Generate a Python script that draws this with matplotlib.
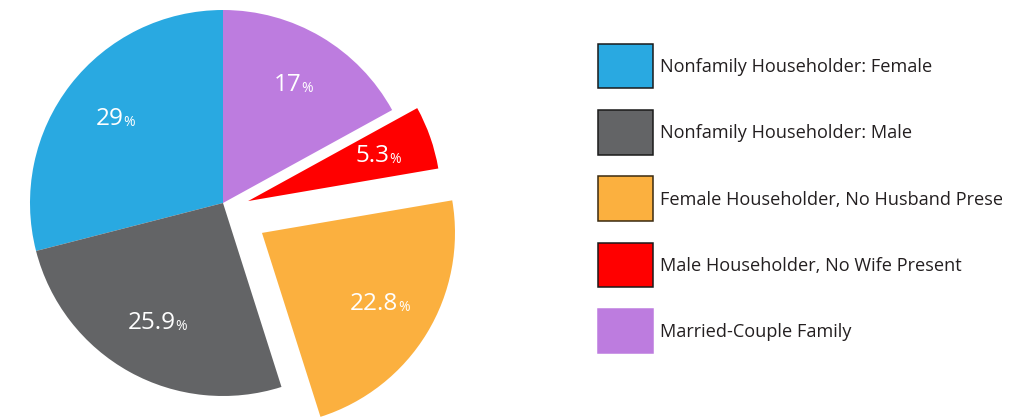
import matplotlib
matplotlib.use("Agg")
import matplotlib.pyplot as plt
from matplotlib.patches import Rectangle
import numpy as np

# Household composition shares (percent)
categories = [
    "Nonfamily Householder: Female",
    "Nonfamily Householder: Male",
    "Female Householder, No Husband Present",
    "Male Householder, No Wife Present",
    "Married-Couple Family",
]
shares = [29, 25.9, 22.8, 5.3, 17]
value_labels = ["29", "25.9", "22.8", "5.3", "17"]
colors = ["#29A9E1", "#636466", "#FBB03F", "#FF0000", "#BD7CDF"]
edge_colors = ["#1a1a1a", "#1a1a1a", "#3a2a10", "#1a1a1a", "#BD7CDF"]

# Pulled-out slices: offsets of the slice tip, in pie-radius units
pull = {2: (0.202, -0.155), 3: (0.130, 0.010)}

FONT = "Open Sans"
W, H = 1029, 419
fig = plt.figure(figsize=(W / 100, H / 100), dpi=100)

# Pie axes covers the whole figure; one data unit equals the pie radius (193 px)
R_PX = 193.0
cx, cy = 223.0, H - 203.0
ax = fig.add_axes([0, 0, 1, 1])

wedges, _ = ax.pie(shares, colors=colors, startangle=90, counterclock=True,
                   radius=1.0, center=(0, 0),
                   wedgeprops=dict(linewidth=0, antialiased=True))

ax.set_aspect("auto")
ax.set_xlim(-cx / R_PX, (W - cx) / R_PX)
ax.set_ylim(-cy / R_PX, (H - cy) / R_PX)
ax.axis("off")

for i, w in enumerate(wedges):
    off = pull.get(i, (0.0, 0.0))
    w.set_center(off)
    w.set_clip_on(False)
    mid = np.deg2rad((w.theta1 + w.theta2) / 2)
    r_lab = 0.71
    x = off[0] + r_lab * np.cos(mid)
    y = off[1] + r_lab * np.sin(mid)
    # number shifted left so that number + small "%" is centred together
    t = ax.annotate(value_labels[i], xy=(x, y), xytext=(-3.6, 0),
                    textcoords="offset points", color="white", fontsize=17.5,
                    family=FONT, ha="center", va="center")
    ax.annotate("%", xy=(1.0, 0.22), xycoords=t, color="white",
                fontsize=10, family=FONT, ha="left", va="baseline")

# Legend drawn in its own axes, clipped on the right
lx0, lx1 = 590, 1002
lax = fig.add_axes([lx0 / W, 0, (lx1 - lx0) / W, 1])
lax.set_xlim(lx0, lx1)
lax.set_ylim(H, 0)
lax.axis("off")

box_x, box_w, box_h = 597.5, 55.5, 44.5
first_top, step = 44.0, 66.2
for i, name in enumerate(categories):
    top = first_top + i * step
    lax.add_patch(Rectangle((box_x, top), box_w, box_h, facecolor=colors[i],
                            edgecolor=edge_colors[i], linewidth=1.1))
    lax.text(660, top + box_h / 2 + 1, name, fontsize=13.1, family=FONT,
             color="#231F20", ha="left", va="center", clip_on=True)

fig.savefig("out.png", dpi=100)
